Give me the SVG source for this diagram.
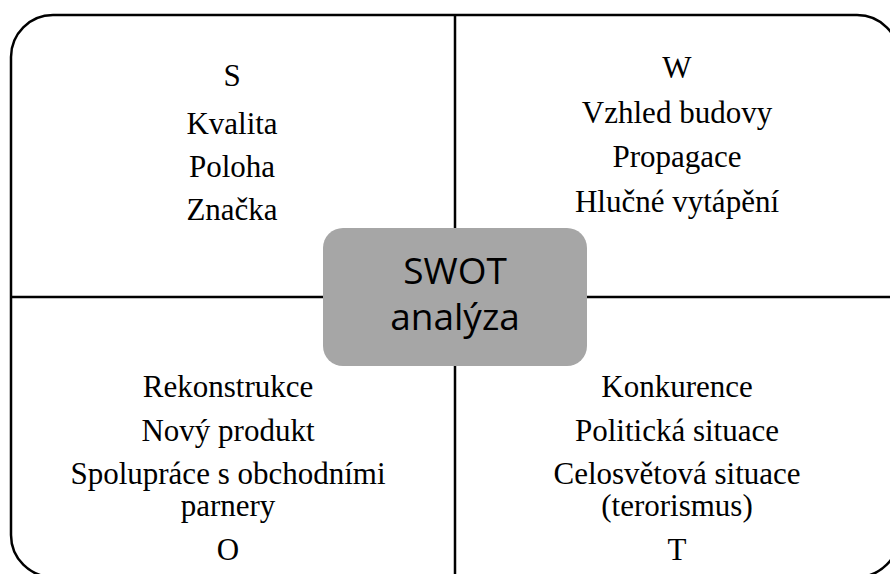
<svg xmlns="http://www.w3.org/2000/svg" width="890" height="574" viewBox="0 0 890 574">
  <style>
    .frame { fill: none; stroke: #000; stroke-width: 2.5; }
    .q { font-family: "Liberation Serif", "Times New Roman", serif; font-size: 31px; fill: #000; text-anchor: middle; }
    .hub-box { fill: #a6a6a6; }
    .hub-text { font-family: "Open Sans", "Liberation Sans", sans-serif; font-size: 37px; fill: #000; text-anchor: middle; }
  </style>
  <rect width="890" height="574" fill="#fff"/>
  <g id="connectors">
    <rect class="frame" x="11" y="15" width="888" height="562" rx="42" ry="42"/>
    <line class="frame" x1="455" y1="15" x2="455" y2="577"/>
    <line class="frame" x1="11" y1="297" x2="899" y2="297"/>
  </g>
  <g id="strengths">
    <text class="q" x="232" y="86">S</text>
    <text class="q" x="232" y="134">Kvalita</text>
    <text class="q" x="232" y="177">Poloha</text>
    <text class="q" x="232" y="220">Značka</text>
  </g>
  <g id="weaknesses">
    <text class="q" x="677" y="78">W</text>
    <text class="q" x="677" y="123">Vzhled budovy</text>
    <text class="q" x="677" y="167">Propagace</text>
    <text class="q" x="677" y="212">Hlučné vytápění</text>
  </g>
  <g id="opportunities">
    <text class="q" x="228" y="397">Rekonstrukce</text>
    <text class="q" x="228" y="441">Nový produkt</text>
    <text class="q" x="228" y="484">Spolupráce s obchodními</text>
    <text class="q" x="228" y="516">parnery</text>
    <text class="q" x="228" y="560">O</text>
  </g>
  <g id="threats">
    <text class="q" x="677" y="397">Konkurence</text>
    <text class="q" x="677" y="441">Politická situace</text>
    <text class="q" x="677" y="484">Celosvětová situace</text>
    <text class="q" x="677" y="516">(terorismus)</text>
    <text class="q" x="677" y="560">T</text>
  </g>
  <g id="swot-hub">
    <rect class="hub-box" x="323" y="228" width="264" height="138" rx="20" ry="20"/>
    <text class="hub-text" x="455" y="284">SWOT</text>
    <text class="hub-text" x="455" y="330">analýza</text>
  </g>
</svg>
